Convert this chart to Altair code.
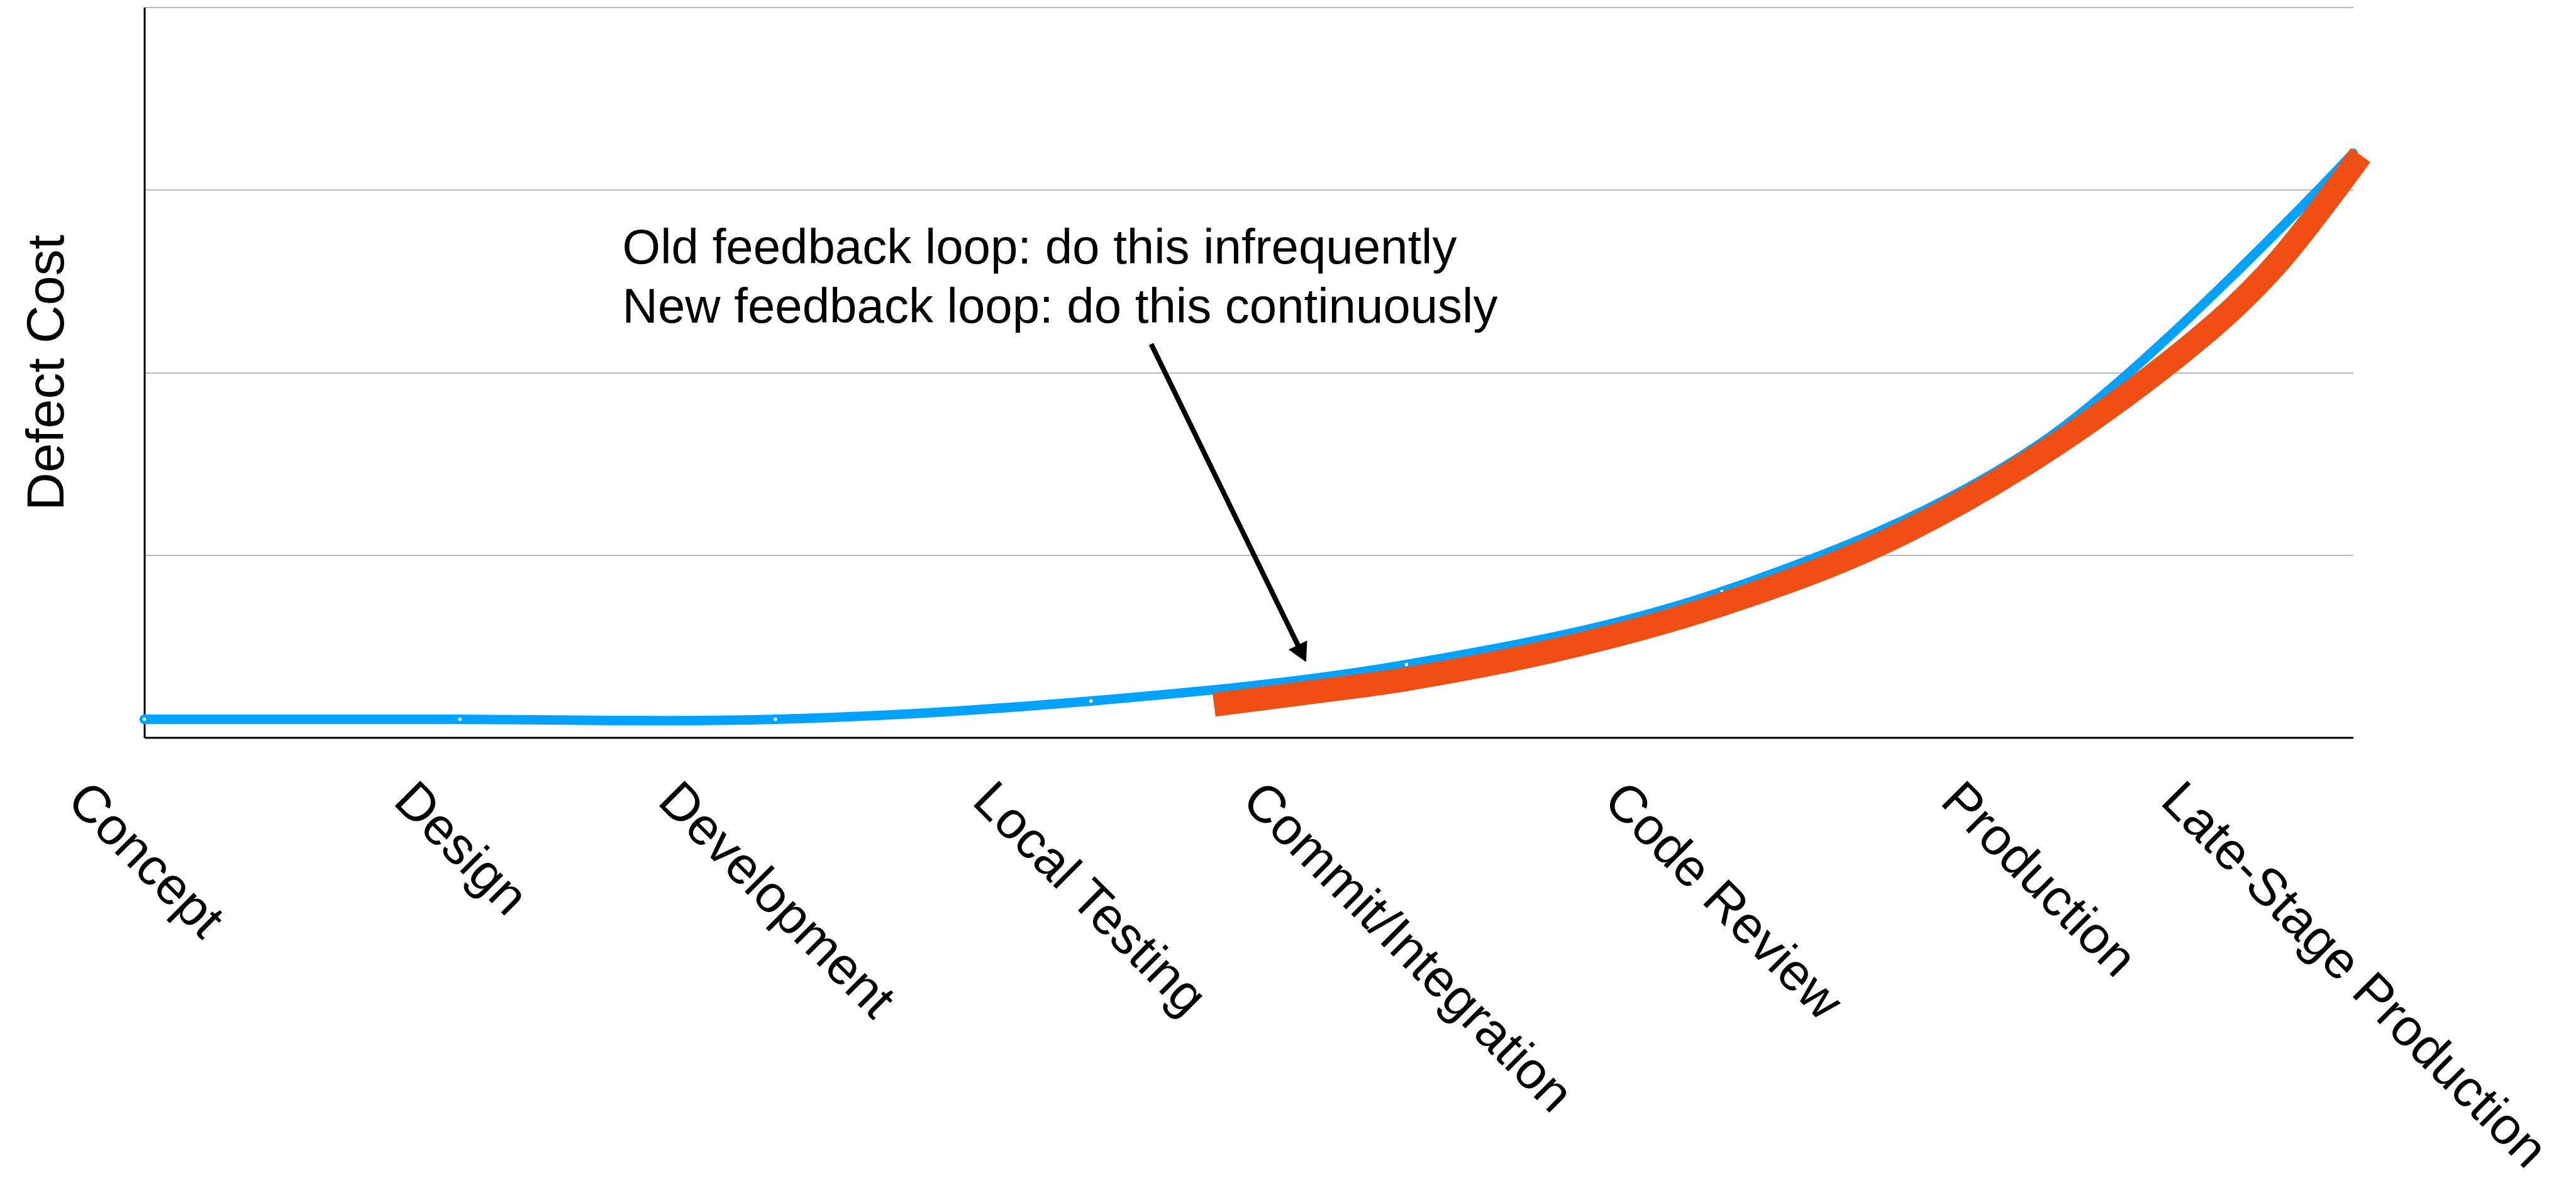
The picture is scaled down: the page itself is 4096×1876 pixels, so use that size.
import json
import math

import altair as alt
import pandas as pd

# ---- data -------------------------------------------------------------
stages = [
    "Concept",
    "Design",
    "Development",
    "Local Testing",
    "Commit/Integration",
    "Code Review",
    "Production",
    "Late-Stage Production",
]
defect_cost = [0.1, 0.1, 0.1, 0.2, 0.4, 0.8, 1.6, 3.2]

# continuous-feedback curve: position along the stage axis, cost
feedback_pos = [3.39, 3.75, 4.0, 4.5, 5.0, 5.5, 6.0, 6.5, 6.75, 7.024]
feedback_cost = [0.18, 0.26, 0.32, 0.49, 0.73, 1.06, 1.54, 2.17, 2.58, 3.19]

note_lines = [
    "Old feedback loop: do this infrequently",
    "New feedback loop: do this continuously",
]
note_pos = [1.515, 1.515]
note_cost = [2.598, 2.273]

# arrow: tail, tip
arrow_pos = [3.191, 3.682]
arrow_cost = [2.155, 0.414]

# ---- look -------------------------------------------------------------
W, H = 3512, 1161
X_MAX, Y_MAX = 7, 4
FONT = "Liberation Sans"
BLUE = "#00A2FF"
ORANGE = "#F04E12"
LABEL_SIZE = 83
NOTE_SIZE = 78
TITLE_SIZE = 84

# Helvetica / Liberation Sans advance widths (1/1000 em)
ADV = {
    " ": 278, "-": 333, "/": 278, ":": 278,
    "A": 667, "C": 722, "D": 722, "I": 278, "L": 556, "P": 667,
    "R": 722, "S": 667, "T": 611,
    "a": 556, "b": 556, "c": 500, "d": 556, "e": 556, "f": 278,
    "g": 556, "h": 556, "i": 222, "k": 500, "l": 222, "m": 833,
    "n": 556, "o": 556, "p": 556, "q": 556, "r": 333, "s": 500,
    "t": 278, "u": 556, "v": 500, "w": 722, "y": 500,
}


def em_width(s):
    return sum(ADV.get(ch, 556) for ch in s) / 1000.0


# slanted labels hang from their top-left corner; shift each one so that
# the middle of the rotated text sits on its tick
label_shift = [
    round(-math.sqrt(0.5) * (em_width(s) * LABEL_SIZE / 2 - 0.5 * LABEL_SIZE), 1)
    for s in stages
]

# arrow shaft stops where the head begins
sx, sy = W / X_MAX, H / Y_MAX
dxp = (arrow_pos[1] - arrow_pos[0]) * sx
dyp = (arrow_cost[0] - arrow_cost[1]) * sy
alen = math.hypot(dxp, dyp)
ux, uy = dxp / alen, dyp / alen
HEAD = 30
shaft_end_pos = arrow_pos[1] - (HEAD - 3) * ux / sx
shaft_end_cost = arrow_cost[1] + (HEAD - 3) * uy / sy
head_angle = round((360 - math.degrees(math.atan2(dxp, dyp))) % 360, 2)

# ---- tables -------------------------------------------------------------
curve = pd.DataFrame({"pos": list(range(len(stages))), "cost": defect_cost, "stage": stages})
feedback = pd.DataFrame({"pos": feedback_pos, "cost": feedback_cost})
notes = pd.DataFrame({"pos": note_pos, "cost": note_cost, "text": note_lines})
shaft = pd.DataFrame(
    {"pos": [arrow_pos[0]], "pos2": [shaft_end_pos],
     "cost": [arrow_cost[0]], "cost2": [shaft_end_cost]}
)
head = pd.DataFrame({"pos": [arrow_pos[1]], "cost": [arrow_cost[1]]})

x_scale = alt.Scale(domain=[0, X_MAX], nice=False, zero=False)
y_scale = alt.Scale(domain=[0, Y_MAX], nice=False, zero=True)

x_axis = alt.Axis(
    values=list(range(len(stages))),
    labelExpr=json.dumps(stages) + "[datum.value]",
    labelAngle=45,
    labelAlign="left",
    labelBaseline="top",
    labelOffset={"expr": json.dumps(label_shift) + "[datum.value]"},
    labelPadding=57,
    labelFont=FONT,
    labelFontSize=LABEL_SIZE,
    labelColor="black",
    labelLimit=3000,
    labelOverlap=False,
    labelFlush=False,
    ticks=False,
    tickSize=0,
    grid=False,
    domainColor="black",
    domainWidth=3,
    title=None,
)

y_axis = alt.Axis(
    values=[0, 1, 2, 3, 4],
    labels=False,
    ticks=False,
    tickSize=0,
    grid=True,
    gridColor="#BABABA",
    gridWidth=2,
    domainColor="black",
    domainWidth=3,
    title="Defect Cost",
    titleFont=FONT,
    titleFontSize=TITLE_SIZE,
    titleFontWeight="normal",
    titleColor="black",
    titleAngle=270,
    titleAlign="center",
    titleBaseline="alphabetic",
    titleX=-129,
    titleY=H / 2,
)

blue_line = alt.Chart(curve).mark_line(
    interpolate="catmull-rom", strokeWidth=15, color=BLUE
).encode(
    x=alt.X("pos:Q", scale=x_scale, axis=x_axis),
    y=alt.Y("cost:Q", scale=y_scale, axis=y_axis),
)

blue_points = alt.Chart(curve).mark_point(
    shape="circle", filled=True, fill="white", stroke=BLUE,
    strokeWidth=5, size=110, opacity=1,
).encode(
    x=alt.X("pos:Q", scale=x_scale),
    y=alt.Y("cost:Q", scale=y_scale),
)

orange_line = alt.Chart(feedback).mark_line(
    interpolate="catmull-rom", strokeWidth=38, color=ORANGE, strokeCap="butt"
).encode(
    x=alt.X("pos:Q", scale=x_scale),
    y=alt.Y("cost:Q", scale=y_scale),
)

arrow_shaft = alt.Chart(shaft).mark_rule(color="black", strokeWidth=8).encode(
    x=alt.X("pos:Q", scale=x_scale),
    x2="pos2:Q",
    y=alt.Y("cost:Q", scale=y_scale),
    y2="cost2:Q",
)

arrow_head = alt.Chart(head).mark_point(
    shape="M0,0L-0.55,-1L0.55,-1Z", filled=True, fill="black",
    strokeWidth=0, size=(2 * HEAD) ** 2, angle=head_angle, opacity=1,
).encode(
    x=alt.X("pos:Q", scale=x_scale),
    y=alt.Y("cost:Q", scale=y_scale),
)

note_text = alt.Chart(notes).mark_text(
    align="left", baseline="alphabetic", font=FONT, fontSize=NOTE_SIZE, color="black"
).encode(
    x=alt.X("pos:Q", scale=x_scale),
    y=alt.Y("cost:Q", scale=y_scale),
    text="text:N",
)

PAD_LEFT, PAD_TOP = 229.5, 11.6

chart = alt.layer(
    blue_line, blue_points, orange_line, arrow_shaft, arrow_head, note_text
).properties(
    width=W,
    height=H,
    padding={
        "left": PAD_LEFT,
        "top": PAD_TOP,
        "right": 4096 - PAD_LEFT - W,
        "bottom": 1876 - PAD_TOP - H,
    },
    autosize=alt.AutoSizeParams(type="none"),
    background="white",
).configure_view(stroke=None)

chart.save("out.html", embed_options={"renderer": "svg", "actions": False})
